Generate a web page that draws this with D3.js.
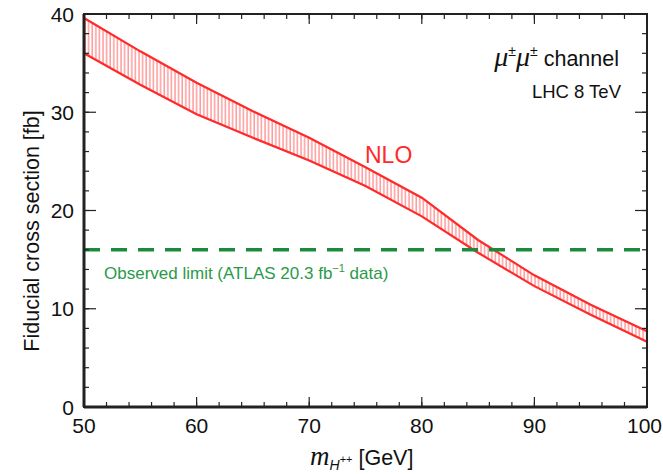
<!DOCTYPE html>
<html>
<head>
<meta charset="utf-8">
<script src="https://cdn.jsdelivr.net/npm/d3@7"></script>
<style>
  body { margin: 0; background: #fff; }
  text { font-family: "Liberation Sans", Arial, sans-serif; }
</style>
</head>
<body>
<div id="chart"></div>
<script>
// Data
const masses = [50, 55, 60, 65, 70, 75, 80, 85, 90, 95, 100];
const upperXsec = [39.6, 36.2, 33.0, 30.1, 27.4, 24.4, 21.3, 17.0, 13.4, 10.4, 7.7];
const lowerXsec = [36.0, 32.8, 29.8, 27.4, 25.1, 22.5, 19.4, 15.7, 12.3, 9.4, 6.65];
const observedLimit = 16;
const xTicks = [50, 60, 70, 80, 90, 100];
const yTicks = [0, 10, 20, 30, 40];

const margin = { top: 14, right: 16, bottom: 67, left: 84 },
    width = 663 - margin.left - margin.right,
    height = 474 - margin.top - margin.bottom;

const svg = d3.select("#chart")
    .append("svg")
    .attr("width", 663)
    .attr("height", 474);

const g = svg.append("g")
    .attr("transform", "translate(" + margin.left + "," + margin.top + ")");

const x = d3.scaleLinear().domain([50, 100]).range([0, width]);
const y = d3.scaleLinear().domain([0, 40]).range([height, 0]);

const band = masses.map((m, i) => ({ m: m, lo: lowerXsec[i], hi: upperXsec[i] }));

// hatch pattern (vertical lines)
const defs = svg.append("defs");
const pat = defs.append("pattern")
    .attr("id", "hatch")
    .attr("patternUnits", "userSpaceOnUse")
    .attr("width", 3.6)
    .attr("height", 10);
pat.append("line")
    .attr("x1", 1).attr("x2", 1)
    .attr("y1", 0).attr("y2", 10)
    .attr("stroke", "#ff2a2a")
    .attr("stroke-opacity", 0.7)
    .attr("stroke-width", 1);

const area = d3.area()
    .x(d => x(d.m))
    .y0(d => y(d.lo))
    .y1(d => y(d.hi));

g.append("path")
    .datum(band)
    .attr("d", area)
    .attr("fill", "url(#hatch)");

const upperLine = d3.line().x(d => x(d.m)).y(d => y(d.hi));
const lowerLine = d3.line().x(d => x(d.m)).y(d => y(d.lo));

[upperLine, lowerLine].forEach(l => {
    g.append("path")
        .datum(band)
        .attr("d", l)
        .attr("fill", "none")
        .attr("stroke", "#ff2a2a")
        .attr("stroke-width", 2.2);
});

// observed limit
g.append("line")
    .attr("x1", x(50)).attr("x2", x(100))
    .attr("y1", y(observedLimit)).attr("y2", y(observedLimit))
    .attr("stroke", "#1b8a3c")
    .attr("stroke-width", 3.5)
    .attr("stroke-dasharray", "16,11");

// frame
g.append("rect")
    .attr("width", width)
    .attr("height", height)
    .attr("fill", "none")
    .attr("stroke", "#222")
    .attr("stroke-width", 2);
g.append("line").attr("x1", 0).attr("x2", 0).attr("y1", 0).attr("y2", height)
    .attr("stroke", "#222").attr("stroke-width", 3);
g.append("line").attr("x1", 0).attr("x2", width).attr("y1", height).attr("y2", height)
    .attr("stroke", "#222").attr("stroke-width", 3);

// ticks (inward, on all four sides)
const xMinor = d3.range(50, 100.1, 2);
const yMinor = d3.range(0, 40.1, 2);

function tickSet(vals, len, isX) {
    vals.forEach(v => {
        if (isX) {
            g.append("line").attr("x1", x(v)).attr("x2", x(v))
                .attr("y1", height).attr("y2", height - len)
                .attr("stroke", "#222").attr("stroke-width", 1.2);
            g.append("line").attr("x1", x(v)).attr("x2", x(v))
                .attr("y1", 0).attr("y2", len)
                .attr("stroke", "#222").attr("stroke-width", 1.2);
        } else {
            g.append("line").attr("x1", 0).attr("x2", len)
                .attr("y1", y(v)).attr("y2", y(v))
                .attr("stroke", "#222").attr("stroke-width", 1.2);
            g.append("line").attr("x1", width).attr("x2", width - len)
                .attr("y1", y(v)).attr("y2", y(v))
                .attr("stroke", "#222").attr("stroke-width", 1.2);
        }
    });
}
tickSet(xMinor, 5, true);
tickSet(xTicks, 10, true);
tickSet(yMinor, 5, false);
tickSet(yTicks, 12, false);

// tick labels
g.selectAll(".xlab")
    .data(xTicks)
    .enter().append("text")
    .attr("class", "xlab")
    .attr("x", d => x(d))
    .attr("y", height + 26)
    .attr("text-anchor", "middle")
    .style("font-size", "21px")
    .style("fill", "#111")
    .text(d => d);

// keep the last label inside the page
g.selectAll(".xlab").each(function(d) {
    const w = this.getComputedTextLength();
    const right = margin.left + x(d) + w / 2;
    if (right > 662) d3.select(this).attr("x", x(d) - (right - 662));
});

g.selectAll(".ylab")
    .data(yTicks)
    .enter().append("text")
    .attr("x", -10)
    .attr("y", d => y(d))
    .attr("dy", "0.36em")
    .attr("text-anchor", "end")
    .style("font-size", "21px")
    .style("fill", "#111")
    .text(d => d);

// axis titles
const xt = svg.append("text")
    .attr("x", 310)
    .attr("y", 465)
    .style("font-size", "21.5px")
    .style("fill", "#111");
xt.append("tspan").style("font-style", "italic").style("font-family", "'Liberation Serif', serif").style("font-size", "27px").text("m");
xt.append("tspan").attr("dy", 5).style("font-style", "italic").style("font-size", "14px").text("H");
xt.append("tspan").attr("dy", -7).style("font-size", "11px").text("++");
xt.append("tspan").attr("dy", 2).text(" [GeV]");

svg.append("text")
    .attr("transform", "translate(39,231) rotate(-90)")
    .attr("text-anchor", "middle")
    .style("font-size", "21.5px")
    .style("fill", "#111")
    .text("Fiducial cross section [fb]");

// annotations
const ch = svg.append("text")
    .attr("x", 619)
    .attr("y", 66)
    .attr("text-anchor", "end")
    .style("font-size", "21.5px")
    .style("fill", "#111");
ch.append("tspan").style("font-style", "italic").style("font-family", "'Liberation Serif', serif").style("font-size", "28px").text("\u03BC");
ch.append("tspan").attr("dy", -10).style("font-size", "14px").text("\u00B1");
ch.append("tspan").attr("dy", 10).style("font-style", "italic").style("font-family", "'Liberation Serif', serif").style("font-size", "28px").text("\u03BC");
ch.append("tspan").attr("dy", -10).style("font-size", "14px").text("\u00B1");
ch.append("tspan").attr("dy", 10).text(" channel");

svg.append("text")
    .attr("x", 621)
    .attr("y", 98)
    .attr("text-anchor", "end")
    .style("font-size", "18.5px")
    .style("fill", "#111")
    .text("LHC 8 TeV");

svg.append("text")
    .attr("x", 365)
    .attr("y", 163)
    .style("font-size", "23px")
    .style("fill", "#ff2a2a")
    .text("NLO");

const obs = svg.append("text")
    .attr("x", 104)
    .attr("y", 279)
    .style("font-size", "17px")
    .style("fill", "#2a9a4a");
obs.append("tspan").text("Observed limit (ATLAS 20.3 fb");
obs.append("tspan").attr("dy", -7).style("font-size", "11px").text("\u22121");
obs.append("tspan").attr("dy", 7).text(" data)");
</script>
</body>
</html>
